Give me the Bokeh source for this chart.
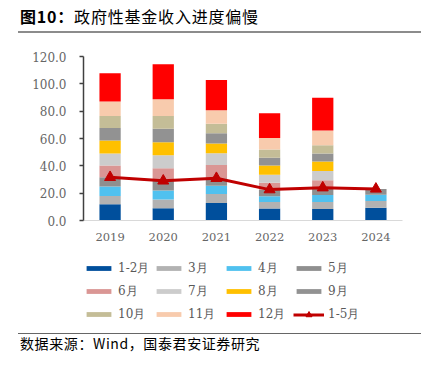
from bokeh.plotting import figure
from bokeh.models import ColumnDataSource, Legend, LegendItem, FixedTicker, PrintfTickFormatter, Div
from bokeh.layouts import column
from bokeh.embed import file_html
from bokeh.resources import INLINE

years = ["2019", "2020", "2021", "2022", "2023", "2024"]
month_labels = ["1-2月", "3月", "4月", "5月", "6月", "7月", "8月", "9月", "10月", "11月", "12月"]
m1_2 = [11.8, 8.9, 12.8, 8.7, 8.4, 9.4]
m3 = [6.2, 6.4, 6.6, 4.9, 5.2, 4.9]
m4 = [6.8, 6.6, 6.1, 4.1, 5.1, 4.6]
m5 = [6.8, 7.1, 5.4, 4.9, 5.3, 4.2]
m6 = [8.6, 9.2, 9.8, 5.1, 5.4, 0]
m7 = [8.8, 9.6, 8.5, 5.7, 6.9, 0]
m8 = [9.6, 9.5, 7.2, 6.8, 6.9, 0]
m9 = [9.0, 9.9, 7.5, 5.7, 5.8, 0]
m10 = [8.8, 9.2, 6.9, 6.1, 6.1, 0]
m11 = [10.6, 12.3, 9.8, 8.3, 10.8, 0]
m12 = [20.7, 25.6, 22.2, 18.1, 24.0, 0]
jan_may = [31.6, 29.0, 30.9, 22.6, 24.0, 23.1]
line_label = "1-5月"
y_ticks = [0, 20, 40, 60, 80, 100, 120]

colors = ["#004F9C", "#B2B2B2", "#50C1EF", "#8F8F8F", "#DA9694", "#CCCCCC",
          "#FFC000", "#929292", "#C4BD97", "#F8CBAD", "#FF0000"]
line_color = "#C00000"

keys = ["m1_2", "m3", "m4", "m5", "m6", "m7", "m8", "m9", "m10", "m11", "m12"]
data = dict(year=years)
for k, v in zip(keys, [m1_2, m3, m4, m5, m6, m7, m8, m9, m10, m11, m12]):
    data[k] = v
src = ColumnDataSource(data)

# main chart
p = figure(x_range=years, y_range=(0, 120), width=410, height=212,
           output_backend="svg", toolbar_location=None, title=None,
           min_border_left=75, min_border_right=16, min_border_top=23, min_border_bottom=25,
           margin=(0, 0, 0, 8))
p.outline_line_color = None
p.background_fill_color = "white"
p.xgrid.grid_line_color = None
p.ygrid.grid_line_color = None

bars = p.vbar_stack(keys, x="year", width=0.4, color=colors, line_color=None, source=src)
lr = p.line(x=years, y=jan_may, line_color=line_color, line_width=3)
sr = p.scatter(x=years, y=jan_may, marker="triangle", size=11,
               fill_color=line_color, line_color=line_color)

p.yaxis.ticker = FixedTicker(ticks=y_ticks)
p.yaxis.formatter = PrintfTickFormatter(format="%.1f")
p.yaxis.axis_line_color = "#404040"
p.yaxis.axis_line_width = 1.5
p.yaxis.major_tick_line_color = "#404040"
p.yaxis.major_tick_line_width = 1.5
p.yaxis.major_tick_out = 4
p.yaxis.major_tick_in = 0
p.yaxis.minor_tick_line_color = None
p.yaxis.major_label_text_font = "DejaVu Serif"
p.yaxis.major_label_text_font_size = "12px"
p.yaxis.major_label_text_color = "#666666"
p.yaxis.major_label_standoff = 13

p.xaxis.axis_line_color = "#D9D9D9"
p.xaxis.major_tick_line_color = None
p.xaxis.minor_tick_line_color = None
p.xaxis.major_label_text_font = "DejaVu Serif"
p.xaxis.major_label_text_font_size = "11.5px"
p.xaxis.major_label_text_color = "#666666"
p.xaxis.major_label_standoff = 6

# legend panel: same series and styles, kept out of view so only the keys show
lg = figure(x_range=years, y_range=(1000, 1001), width=410, height=80,
            output_backend="svg", toolbar_location=None, title=None,
            x_axis_location=None, y_axis_location=None,
            min_border_left=75, min_border_right=16, min_border_top=13, min_border_bottom=0,
            margin=(0, 0, 0, 8))
lg.outline_line_color = None
lg.xgrid.grid_line_color = None
lg.ygrid.grid_line_color = None
key_renderers = [lg.vbar(x="year", top=k, width=0.4, color=c, line_color=None, source=src)
                 for k, c in zip(keys, colors)]
kl = lg.line(x=years, y=jan_may, line_color=line_color, line_width=3)
ks = lg.scatter(x=years, y=jan_may, marker="triangle", size=11,
                fill_color=line_color, line_color=line_color)

common = dict(orientation="horizontal", glyph_width=31, label_standoff=4, label_width=32,
              label_height=20, spacing=3, padding=0, margin=0,
              border_line_color=None, background_fill_alpha=0,
              label_text_font="DejaVu Serif", label_text_font_size="12px",
              label_text_color="#595959")
items = [LegendItem(label=lab, renderers=[r]) for lab, r in zip(month_labels, key_renderers)]
legend = Legend(items=items, location="top_left", ncols=4, glyph_height=6, **common)
lg.add_layout(legend, "center")
legend2 = Legend(items=[LegendItem(label=line_label, renderers=[kl, ks])],
                 location=(210, 1), glyph_height=15, **common)
lg.add_layout(legend2, "center")

title_div = Div(text=('<div style="box-sizing:border-box;width:403px;height:25px;'
                      'border-bottom:2px solid #8c8c8c;font-family:\'Noto Sans CJK SC\';'
                      'font-size:16px;line-height:16px;color:#000;padding-left:2px;letter-spacing:0.8px;">'
                      '<b>图10：</b>政府性基金收入进度偏慢</div>'),
                width=403, height=25, margin=(8, 0, 0, 18))
source_div = Div(text=('<div style="box-sizing:border-box;width:403px;height:28px;padding-top:8px;">'
                       '<div style="border-top:1.5px solid #666;font-family:\'Noto Sans CJK SC\';'
                       'font-size:14px;line-height:18px;color:#000;padding-left:2px;letter-spacing:0.6px;">'
                       '数据来源：Wind，国泰君安证券研究</div></div>'),
                 width=403, height=28, margin=(0, 0, 0, 18))

layout = column(title_div, p, lg, source_div, spacing=0)
open("out.html", "w").write(file_html(layout, INLINE))
